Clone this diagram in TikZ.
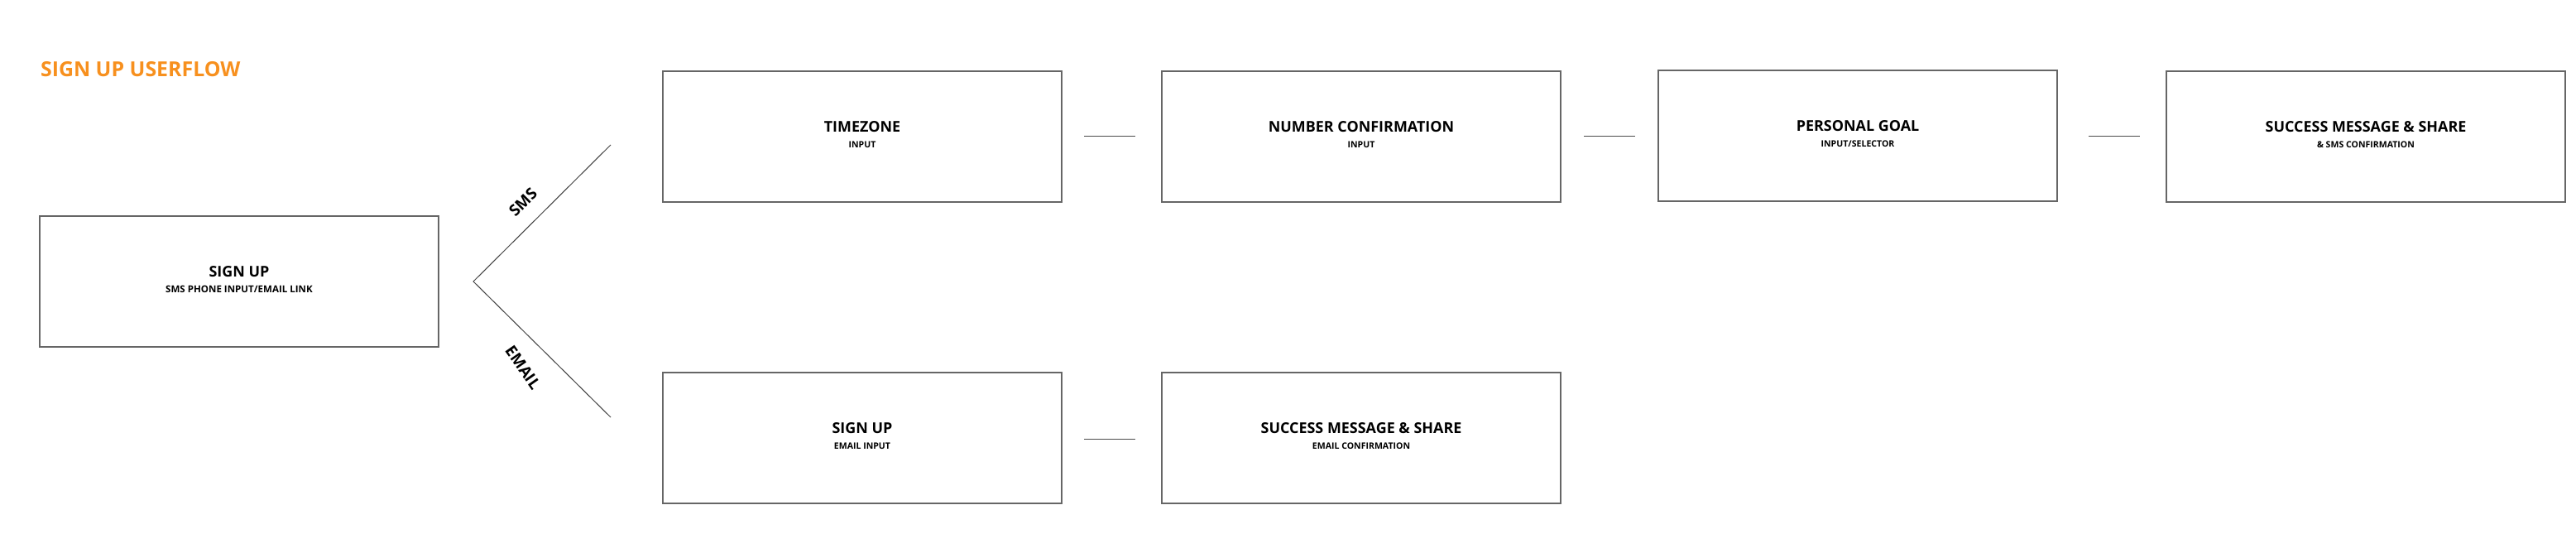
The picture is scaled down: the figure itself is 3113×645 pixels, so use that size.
\documentclass[tikz,border=0pt]{standalone}
\usepackage{fontspec}
\setmainfont{Open Sans}
\definecolor{orangeT}{HTML}{F7901E}
\begin{document}
\begin{tikzpicture}[x=0.5bp,y=-0.5bp,
  box/.style={draw=black!60,line width=0.6pt,minimum width=241bp,minimum height=79bp,inner sep=0pt},
  ttl/.style={font=\bfseries\fontsize{9}{10}\selectfont},
  sub/.style={font=\bfseries\fontsize{5.3}{6}\selectfont},
  linkline/.style={draw=black!70,line width=0.4pt},
  branch/.style={draw=black!75,line width=0.5pt}]
\useasboundingbox (0,0) rectangle (3113,645);
\node[anchor=west,text=orangeT,font=\bfseries\fontsize{12.5}{15}\selectfont] (title) at (42,84) {SIGN UP USERFLOW};
\node[box] (s) at (289,340) {};
\node[font=\bfseries\fontsize{9}{10}\selectfont] (st) at (289,328) {SIGN UP};
\node[font=\bfseries\fontsize{5.8}{6}\selectfont] (ss) at (289,349) {SMS PHONE INPUT/EMAIL LINK};
\foreach \n/\x/\y/\t/\s in {a/1042/165/TIMEZONE/INPUT, b/1645/165/NUMBER CONFIRMATION/INPUT, c/2245/164/PERSONAL GOAL/INPUT\slash SELECTOR, d/2859/165/SUCCESS MESSAGE \& SHARE/\& SMS CONFIRMATION, e/1042/529/SIGN UP/EMAIL INPUT, f/1645/529/SUCCESS MESSAGE \& SHARE/EMAIL CONFIRMATION}{
  \node[box] (\n) at (\x,\y) {};
  \node[ttl] (\n t) at (\x,\y-12) {\t};
  \node[sub] (\n s) at (\x,\y+10) {\s};
}
\coordinate (ap) at (572,340);
\coordinate (up) at (738,175);
\coordinate (dn) at (738,504);
\draw[branch] (up) -- (ap) -- (dn);
\node[rotate=45,inner sep=0pt,font=\bfseries\fontsize{9.5}{10}\selectfont] (sms) at (632,244) {SMS};
\node[rotate=-55,inner sep=0pt,font=\bfseries\fontsize{9.5}{10}\selectfont] (email) at (632,444) {EMAIL};
\foreach \x/\y/\n in {1310/164/1, 1914/164/2, 2524/164/3, 1310/530/4}{
  \coordinate (l\n) at (\x,\y); \coordinate (r\n) at (\x+62,\y);
  \draw[linkline] (l\n) -- (r\n);
}
\end{tikzpicture}
\end{document}
